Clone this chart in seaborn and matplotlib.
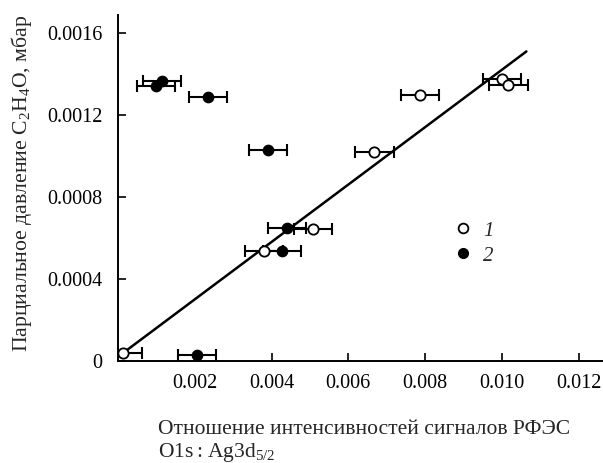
import numpy as np
import pandas as pd
import matplotlib
matplotlib.use("Agg")
import matplotlib.pyplot as plt
import seaborn as sns
from matplotlib.lines import Line2D

# Series 1 (open circles)
x1 = [0.00013, 0.00381, 0.00508, 0.00668, 0.00787, 0.01001, 0.01017]
y1 = [0.000039, 0.000537, 0.000644, 0.00102, 0.001298, 0.001376, 0.001346]
xerr1 = [0.0005, 0.0005, 0.0005, 0.0005, 0.0005, 0.0005, 0.0005]

# Series 2 (filled circles)
x2 = [0.00206, 0.00428, 0.00441, 0.00391, 0.00235, 0.00099, 0.00115]
y2 = [0.000029, 0.000537, 0.000649, 0.00103, 0.00129, 0.001341, 0.001366]
xerr2 = [0.0005, 0.0005, 0.0005, 0.0005, 0.0005, 0.0005, 0.0005]

# Linear fit line endpoints
fit_x = [0.00013, 0.01064]
fit_y = [0.000039, 0.001512]

xticks = [0.002, 0.004, 0.006, 0.008, 0.010, 0.012]
xticklabels = ["0.002", "0.004", "0.006", "0.008", "0.010", "0.012"]
yticks = [0, 0.0004, 0.0008, 0.0012, 0.0016]
yticklabels = ["0", "0.0004", "0.0008", "0.0012", "0.0016"]

sns.set_style("ticks")
SERIF = ["Liberation Serif", "DejaVu Serif"]
plt.rcParams["font.family"] = SERIF
plt.rcParams["mathtext.fontset"] = "custom"
plt.rcParams["mathtext.rm"] = "Liberation Serif"
plt.rcParams["mathtext.it"] = "Liberation Serif:italic"

fig = plt.figure(figsize=(6.03, 4.63), dpi=100)
ax = fig.add_axes([0.1957, 0.2203, 0.8033, 0.7473])

df1 = pd.DataFrame({"x": x1, "y": y1})
df2 = pd.DataFrame({"x": x2, "y": y2})
dfl = pd.DataFrame({"x": fit_x, "y": fit_y})

sns.lineplot(data=dfl, x="x", y="y", ax=ax, color="black", lw=1.8, zorder=2)

ax.errorbar(x1, y1, xerr=xerr1, fmt="none", ecolor="black", elinewidth=1.5,
            capsize=4, capthick=1.5, zorder=3)
ax.errorbar(x2, y2, xerr=xerr2, fmt="none", ecolor="black", elinewidth=1.5,
            capsize=4, capthick=1.5, zorder=3)

sns.scatterplot(data=df1, x="x", y="y", ax=ax, marker="o", s=55,
                facecolor="white", edgecolor="black", linewidth=1.3, zorder=4)
sns.scatterplot(data=df2, x="x", y="y", ax=ax, marker="o", s=55,
                color="black", edgecolor="black", linewidth=1.0, zorder=4)

ax.set_xlim(0, 0.01262)
ax.set_ylim(0, 0.00169)
ax.set_xticks(xticks)
ax.set_xticklabels(xticklabels, fontfamily=SERIF, fontsize=14.5)
ax.set_yticks(yticks)
ax.set_yticklabels(yticklabels, fontfamily=SERIF, fontsize=14.5)
ax.tick_params(direction="in", length=6, width=1.2, colors="black")
ax.tick_params(axis="x", pad=9)
ax.tick_params(axis="y", pad=11)
for s in ["top", "right"]:
    ax.spines[s].set_visible(False)
for s in ["left", "bottom"]:
    ax.spines[s].set_linewidth(1.4)
    ax.spines[s].set_color("black")

ax.set_xlabel("")
ax.set_ylabel("Парциальное давление C$_2$H$_4$O, мбар", fontsize=15.7,
              fontfamily=SERIF)
ax.yaxis.set_label_coords((34 - 118) / 485, (361 - 183) / 346)

fig.text(158 / 603, 1 - 434 / 463, "Отношение интенсивностей сигналов РФЭС",
         fontsize=15.5, ha="left", va="baseline", fontfamily=SERIF)
fig.text(158 / 603, 1 - 457 / 463, "O1s\u2009:\u2009Ag3d$_{5/2}$",
         fontsize=15.5, ha="left", va="baseline", fontfamily=SERIF)

handles = [
    Line2D([], [], marker="o", ls="none", markerfacecolor="white",
           markeredgecolor="black", markersize=7, markeredgewidth=1.3),
    Line2D([], [], marker="o", ls="none", markerfacecolor="black",
           markeredgecolor="black", markersize=7),
]
leg = ax.legend(handles, ["1", "2"], loc="center", frameon=False,
                bbox_to_anchor=(0.733, 0.34), handlelength=1.0,
                handletextpad=0.5, labelspacing=0.25,
                prop={"style": "italic", "size": 15, "family": SERIF})

fig.savefig("out.png", dpi=100)
